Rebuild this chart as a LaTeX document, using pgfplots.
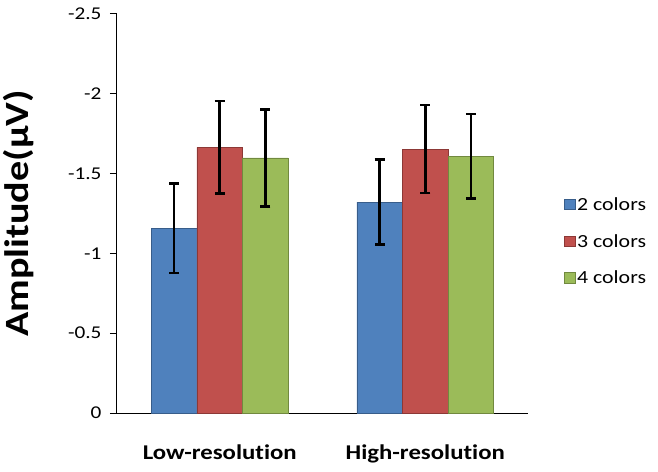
\documentclass[border=0pt]{standalone}
\usepackage{fontspec}
\setmainfont{Carlito}[FakeStretch=1.18, Ligatures=CommonOff]
\usepackage{pgfplots}
\pgfplotsset{compat=1.18}
\usetikzlibrary{calc}
\definecolor{xlblue}{HTML}{4F81BD}
\definecolor{xlred}{HTML}{C0504D}
\definecolor{xlgreen}{HTML}{9BBB59}
\definecolor{xlblueedge}{HTML}{385D8A}
\definecolor{xlrededge}{HTML}{8C3836}
\definecolor{xlgreenedge}{HTML}{71893F}

\begin{document}
\begin{tikzpicture}
  \begin{axis}[
    name=ax,
    scale only axis,
    width=411pt, height=399pt,
    ybar=0pt, bar width=45.6pt,
    y dir=reverse,
    ymin=-2.5, ymax=0,
    xmin=-0.5, xmax=1.5,
    xtick={0,1},
    xticklabels={Low-resolution, High-resolution},
    ytick={-2.5,-2,-1.5,-1,-0.5,0},
    yticklabels={-2.5,-2,-1.5,-1,-0.5,0},
    axis y line*=left,
    axis x line*=bottom,
    axis line style={black, line width=1pt},
    tick align=outside,
    major tick length=7pt,
    ytick style={black, line width=1pt},
    xtick style={draw=none},
    yticklabel style={font=\fontsize{18}{20}\selectfont, xshift=-5pt},
    xticklabel style={font=\bfseries\fontsize{21}{24}\selectfont, yshift=-21pt},
    ylabel={Amplitude(μV)},
    ylabel style={font=\bfseries\fontsize{34}{38}\selectfont, at={(axis description cs:0,0.5)}, anchor=center, yshift=98pt},
    error bars/error bar style={black, line width=2.5pt},
    error bars/error mark options={black, rotate=90, mark size=5pt, line width=2.5pt},
    legend style={draw=none, fill=none, at={(1.08,0.43)}, anchor=west,
      font=\fontsize{18.5}{20}\selectfont, row sep=18.5pt},
    legend cell align=left,
    legend image code/.code={\draw[#1, line width=0.6pt] (0pt,-5pt) rectangle (10.5pt,5.5pt);},
  ]
  \addplot[fill=xlblue, draw=xlblueedge, line width=0.6pt,
    error bars/.cd, y dir=both, y explicit]
    coordinates {(0,-1.157) +- (0,0.280) (1,-1.322) +- (0,0.265)};
  \addplot[fill=xlred, draw=xlrededge, line width=0.6pt,
    error bars/.cd, y dir=both, y explicit]
    coordinates {(0,-1.665) +- (0,0.290) (1,-1.654) +- (0,0.277)};
  \addplot[fill=xlgreen, draw=xlgreenedge, line width=0.6pt,
    error bars/.cd, y dir=both, y explicit]
    coordinates {(0,-1.598) +- (0,0.303) (1,-1.608) +- (0,0.265)};
  \legend{2 colors, 3 colors, 4 colors}
  \end{axis}
  \pgfresetboundingbox
  \path[use as bounding box] ($(ax.south west)+(-117pt,-59pt)$) rectangle ($(ax.north east)+(130pt,14pt)$);
\end{tikzpicture}
\end{document}
